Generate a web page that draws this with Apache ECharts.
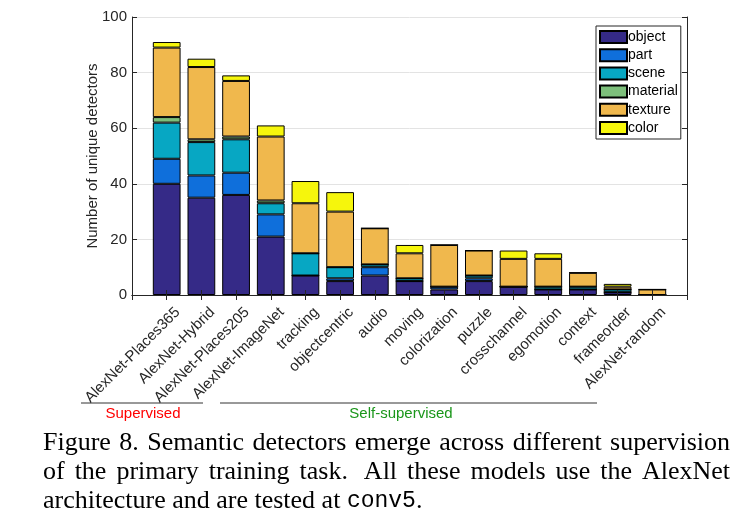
<!DOCTYPE html>
<html>
<head>
<meta charset="utf-8">
<script src="https://cdn.jsdelivr.net/npm/echarts@6/dist/echarts.min.js"></script>
<style>html,body{margin:0;padding:0;background:#fff;}#c{width:743px;height:526px;}</style>
</head>
<body>
<div id="c"></div>
<script>
const categories = ['AlexNet-Places365','AlexNet-Hybrid','AlexNet-Places205','AlexNet-ImageNet','tracking','objectcentric','audio','moving','colorization','puzzle','crosschannel','egomotion','context','frameorder','AlexNet-random'];
const objectVals   = [40,35,36,21,7,5,7,5,2,5,3,2,2,1,0];
const partVals     = [9,8,8,8,0,1,3,0,1,1,0,0,0,0,0];
const sceneVals    = [13,12,12,4,8,4,1,1,0,1,0,1,1,1,0];
const materialVals = [2,1,1,1,0,0,0,0,0,0,0,0,0,0,0];
const textureVals  = [25,26,20,23,18,20,13,9,15,9,10,10,5,1,2];
const colorVals    = [2,3,2,4,8,7,0,3,0,0,3,2,0,1,0];
const seriesNames = ['object','part','scene','material','texture','color'];
const yTicks = [0,20,40,60,80,100];
const captionLine1 = 'Figure 8. Semantic detectors emerge across different supervision';
const captionLine2 = 'of the primary training task.  All these models use the AlexNet';
const captionLine3 = 'architecture and are tested at ';
const captionCode = 'conv5';
const captionEnd = '.';
const groupLabels = ['Supervised','Self-supervised'];

const palette = ['#352A87','#0F6FDB','#07A7C3','#7DBF7B','#F0B84D','#F6F60C'];
const allVals = [objectVals,partVals,sceneVals,materialVals,textureVals,colorVals];
const padCats = [''].concat(categories, ['']);
const axisColor = '#262626';
const sans = 'Liberation Sans';

const series = seriesNames.map((n,i)=>({
  name:n, type:'bar', stack:'all', barWidth:'80%',
  data:['-'].concat(allVals[i],['-']),
  itemStyle:{color:palette[i], borderColor:'#000', borderWidth:1},
  emphasis:{disabled:true}, z:2
}));

function justify(line, x0, x1, y, font){
  const ctx = document.createElement('canvas').getContext('2d');
  ctx.font = font;
  const words = line.split(/ +/);
  const widths = words.map(w=>ctx.measureText(w).width);
  const weights = words.slice(0,-1).map(w=>/\.$/.test(w) && !/^\d+\.$/.test(w) ? 1.6 : 1);
  const total = widths.reduce((a,b)=>a+b,0);
  const wsum = weights.reduce((a,b)=>a+b,0);
  const unit = (x1-x0-total)/wsum;
  let x = x0; const els=[];
  words.forEach((w,i)=>{
    els.push({type:'text', x:x, y:y, style:{text:w, font:font, fill:'#000', textVerticalAlign:'middle'}});
    x += widths[i] + (i<weights.length ? unit*weights[i] : 0);
  });
  return els;
}
const capFont = '26px "Liberation Serif"';
const graphics = [].concat(
  justify(captionLine1, 43, 730, 443, capFont),
  justify(captionLine2, 43, 730, 472, capFont),
  [{type:'text', x:43, y:501, style:{text:captionLine3 + '{m|' + captionCode + '}' + captionEnd, font:capFont, fill:'#000', textVerticalAlign:'middle',
    rich:{m:{fontFamily:'Liberation Mono', fontSize:23, fill:'#000'}}}},
   {type:'line', shape:{x1:81,y1:403,x2:203,y2:403}, style:{stroke:'#333', lineWidth:1}},
   {type:'line', shape:{x1:220,y1:403,x2:597,y2:403}, style:{stroke:'#333', lineWidth:1}},
   {type:'text', x:143, y:414, style:{text:groupLabels[0], font:'15px "Liberation Sans"', fill:'#ff0000', textAlign:'center', textVerticalAlign:'middle'}},
   {type:'text', x:401, y:414, style:{text:groupLabels[1], font:'15px "Liberation Sans"', fill:'#1a961a', textAlign:'center', textVerticalAlign:'middle'}}
  ]
);

const chart = echarts.init(document.getElementById('c'), null, {renderer:'canvas'});
chart.setOption({
  animation:false,
  backgroundColor:'#fff',
  textStyle:{fontFamily:sans},
  grid:[
    {left:132, right:56, top:17, bottom:231, containLabel:false},
    {left:143, right:45, top:17, bottom:231, containLabel:false}
  ],
  legend:{
    data:seriesNames, orient:'vertical', left:596, top:26,
    backgroundColor:'#fff', borderColor:axisColor, borderWidth:1, padding:[4,3,4,3],
    itemWidth:27, itemHeight:12, itemGap:4.2, icon:'rect',
    textStyle:{fontSize:14, lineHeight:12, color:'#000', fontFamily:sans, padding:[0,0,0,-4]},
    selectedMode:false
  },
  xAxis:[
    {type:'category', gridIndex:0, data:padCats, boundaryGap:false, position:'bottom', z:5,
     axisLine:{show:true, lineStyle:{color:axisColor, width:1}},
     axisTick:{show:true, inside:true, length:5, interval:0, lineStyle:{color:axisColor}},
     axisLabel:{show:false}, splitLine:{show:false}},
    {type:'category', gridIndex:0, data:padCats, boundaryGap:false, position:'top', z:5,
     axisLine:{show:true, lineStyle:{color:axisColor, width:1}},
     axisTick:{show:true, inside:true, length:5, interval:0, lineStyle:{color:axisColor}},
     axisLabel:{show:false}, splitLine:{show:false}},
    {type:'category', gridIndex:1, data:padCats, boundaryGap:false, position:'bottom', z:5,
     axisLine:{show:false}, axisTick:{show:false}, splitLine:{show:false},
     axisLabel:{interval:0, rotate:45, margin:15, fontSize:15, color:axisColor, fontFamily:sans}}
  ],
  yAxis:[
    {type:'value', gridIndex:0, min:yTicks[0], max:yTicks[yTicks.length-1], interval:20, position:'left',
     name:'Number of unique detectors', nameLocation:'middle', nameGap:32, nameRotate:90, nameMoveOverlap:false,
     nameTextStyle:{fontSize:15, color:axisColor, fontFamily:sans},
     axisLine:{show:true, lineStyle:{color:axisColor, width:1}},
     axisTick:{show:true, inside:true, length:5, lineStyle:{color:axisColor}},
     axisLabel:{fontSize:15, color:axisColor, margin:5, fontFamily:sans},
     splitLine:{show:true, lineStyle:{color:'#e3e3e3', width:1}}},
    {type:'value', gridIndex:0, min:yTicks[0], max:yTicks[yTicks.length-1], interval:20, position:'right', z:5,
     axisLine:{show:true, lineStyle:{color:axisColor, width:1}},
     axisTick:{show:true, inside:true, length:5, lineStyle:{color:axisColor}},
     axisLabel:{show:false}, splitLine:{show:false}},
    {type:'value', gridIndex:1, min:0, max:100, show:false}
  ],
  series:series,
  graphic:graphics
});
</script>
</body>
</html>
